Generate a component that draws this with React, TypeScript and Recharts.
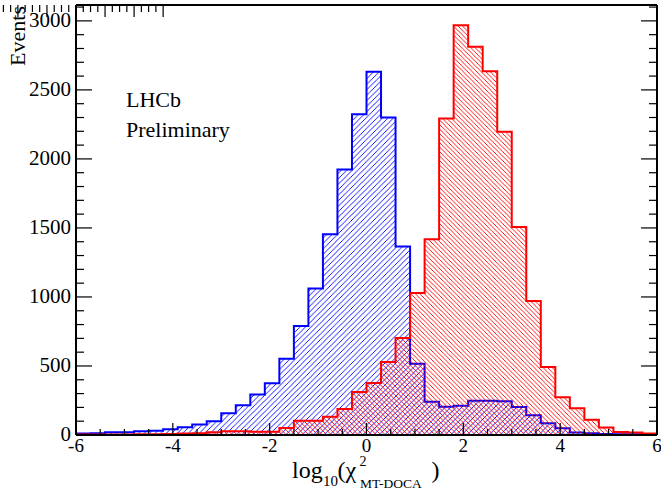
import { Area, ComposedChart, Label, XAxis, YAxis } from 'recharts';

// lower edges of the 0.3 wide bins in log10(chi2)
const binLow = [
  -6, -5.7, -5.4, -5.1, -4.8, -4.5, -4.2, -3.9, -3.6, -3.3, -3, -2.7, -2.4, -2.1, -1.8, -1.5, -1.2, -0.9, -0.6,
  -0.3, 0, 0.3, 0.6, 0.9, 1.2, 1.5, 1.8, 2.1, 2.4, 2.7, 3, 3.3, 3.6, 3.9, 4.2, 4.5, 4.8, 5.1, 5.4, 5.7,
];
const lastEdge = 6;

const blueCounts = [
  10, 12, 20, 20, 28, 30, 42, 56, 76, 100, 158, 215, 293, 375, 553, 790, 1061, 1454, 1923, 2324,
  2632, 2300, 1366, 517, 240, 205, 212, 248, 248, 244, 203, 143, 86, 48, 18, 12, 8, 6, 5, 4,
];
const redCounts = [
  3, 3, 4, 4, 5, 6, 8, 10, 12, 20, 28, 28, 24, 24, 51, 104, 104, 132, 188, 312,
  377, 529, 703, 1029, 1418, 2293, 2969, 2812, 2635, 2196, 1507, 971, 493, 273, 193, 110, 55, 22, 18, 10,
];

const xMajorTicks = [-6, -4, -2, 0, 2, 4, 6];
const xMinorTicks = [-5.5, -5, -4.5, -3.5, -3, -2.5, -1.5, -1, -0.5, 0.5, 1, 1.5, 2.5, 3, 3.5, 4.5, 5, 5.5];
const yMajorTicks = [0, 500, 1000, 1500, 2000, 2500, 3000];
const yMinorTicks = [
  100, 200, 300, 400, 600, 700, 800, 900, 1100, 1200, 1300, 1400, 1600, 1700, 1800, 1900,
  2100, 2200, 2300, 2400, 2600, 2700, 2800, 2900, 3100,
];
const yMax = 3115;

const FONT = '"Liberation Serif", "DejaVu Serif", serif';
const serif = { fontFamily: FONT };

const chartData = [
  ...binLow.map((x, i) => ({ x, blue: blueCounts[i], red: redCounts[i] })),
  { x: lastEdge, blue: blueCounts[blueCounts.length - 1], red: redCounts[redCounts.length - 1] },
];

const xTicks = [...xMajorTicks, ...xMinorTicks].sort((a, b) => a - b);
const yTicks = [...yMajorTicks, ...yMinorTicks].sort((a, b) => a - b);

type TickProps = { x: number; y: number; payload: { value: number } };

const BottomTick = ({ x, y, payload }: TickProps) => {
  const major = xMajorTicks.includes(payload.value);
  return (
    <g>
      <line x1={x} y1={y} x2={x} y2={y - (major ? 12 : 6)} stroke="#000" strokeWidth={1.2} />
      {major && (
        <text x={x} y={y + 17} textAnchor="middle" fontSize={19} style={serif} fill="#000">
          {payload.value}
        </text>
      )}
    </g>
  );
};

const TopTick = ({ x, y, payload }: TickProps) => {
  const major = xMajorTicks.includes(payload.value);
  return <line x1={x} y1={y} x2={x} y2={y + (major ? 12 : 7)} stroke="#000" strokeWidth={1.2} />;
};

const LeftTick = ({ x, y, payload }: TickProps) => {
  const major = yMajorTicks.includes(payload.value);
  return (
    <g>
      <line x1={x} y1={y} x2={x + (major ? 16 : 8)} y2={y} stroke="#000" strokeWidth={1.2} />
      {major && (
        <text x={x - 5} y={y + 6} textAnchor="end" fontSize={21} style={serif} fill="#000">
          {payload.value}
        </text>
      )}
    </g>
  );
};

const RightTick = ({ x, y, payload }: TickProps) => {
  const major = yMajorTicks.includes(payload.value);
  return <line x1={x} y1={y} x2={x - (major ? 16 : 8)} y2={y} stroke="#000" strokeWidth={1.2} />;
};

const XTitle = ({ viewBox }: any) => {
  const cx = viewBox.x + viewBox.width / 2;
  const base = viewBox.y + 43;
  return (
    <text style={serif} fill="#000">
      <tspan x={cx - 74.5} y={base} fontSize={24}>log</tspan>
      <tspan x={cx - 43.5} y={base + 8} fontSize={15}>10</tspan>
      <tspan x={cx - 29} y={base} fontSize={24}>(</tspan>
      <tspan x={cx - 21} y={base} fontSize={24}>χ</tspan>
      <tspan x={cx - 7} y={base - 12} fontSize={14}>2</tspan>
      <tspan x={cx - 6.5} y={base + 10} fontSize={13.5}>MT-DOCA</tspan>
      <tspan x={cx + 65} y={base} fontSize={24}>)</tspan>
    </text>
  );
};

const YTitle = () => (
  <text x={25} y={6} transform="rotate(-90, 25, 6)" textAnchor="end" fontSize={22} style={serif} fill="#000">
    Events
  </text>
);

export default function App() {
  return (
    <div style={{ position: 'absolute', left: 0, top: 0, width: 661, height: 492, background: '#fff' }}>
      <svg width={0} height={0} style={{ position: 'absolute' }}>
        <defs>
          <pattern id="hatchBlue" patternUnits="userSpaceOnUse" width={5.5} height={5.5}>
            <path d="M0,5.5 L5.5,0 M-1,1 L1,-1 M4.5,6.5 L6.5,4.5" stroke="#0000ff" strokeWidth={0.9} />
          </pattern>
          <pattern id="hatchRed" patternUnits="userSpaceOnUse" width={4.5} height={4.5}>
            <path d="M0,0 L4.5,4.5 M-1,3.5 L1,5.5 M3.5,-1 L5.5,1" stroke="#ff0000" strokeWidth={0.9} />
          </pattern>
        </defs>
      </svg>
      <ComposedChart width={661} height={492} data={chartData} margin={{ top: 4, right: 3, bottom: 0, left: 0 }}>
        <XAxis
          dataKey="x"
          type="number"
          domain={[-6, 6]}
          ticks={xTicks}
          interval={0}
          allowDataOverflow
          height={57}
          tickSize={0}
          tickMargin={0}
          tickLine={false}
          axisLine={{ stroke: '#000', strokeWidth: 2 }}
          tick={BottomTick}
        >
          <Label content={XTitle} />
        </XAxis>
        <XAxis
          xAxisId="top"
          orientation="top"
          type="number"
          domain={[-6, 6]}
          ticks={xTicks}
          interval={0}
          allowDataOverflow
          height={1}
          tickSize={0}
          tickMargin={0}
          tickLine={false}
          axisLine={{ stroke: '#000', strokeWidth: 2 }}
          tick={TopTick}
        />
        <YAxis
          yAxisId="left"
          type="number"
          domain={[0, yMax]}
          ticks={yTicks}
          interval={0}
          allowDataOverflow
          width={76}
          tickSize={0}
          tickMargin={0}
          tickLine={false}
          axisLine={{ stroke: '#000', strokeWidth: 2 }}
          tick={LeftTick}
        >
          <Label content={YTitle} />
        </YAxis>
        <YAxis
          yAxisId="right"
          orientation="right"
          type="number"
          domain={[0, yMax]}
          ticks={yTicks}
          interval={0}
          allowDataOverflow
          width={1}
          tickSize={0}
          tickMargin={0}
          tickLine={false}
          axisLine={{ stroke: '#000', strokeWidth: 2 }}
          tick={RightTick}
        />
        <Area
          yAxisId="left"
          type="stepAfter"
          dataKey="blue"
          stroke="#0000ff"
          strokeWidth={2}
          fill="url(#hatchBlue)"
          fillOpacity={1}
          dot={false}
          activeDot={false}
          isAnimationActive={false}
        />
        <Area
          yAxisId="left"
          type="stepAfter"
          dataKey="red"
          stroke="#ff0000"
          strokeWidth={2}
          fill="url(#hatchRed)"
          fillOpacity={1}
          dot={false}
          activeDot={false}
          isAnimationActive={false}
        />
      </ComposedChart>
      <div
        style={{
          position: 'absolute',
          left: 126,
          top: 85,
          fontFamily: FONT,
          fontSize: 22,
          lineHeight: '30px',
          color: '#000',
        }}
      >
        LHCb
        <br />
        Preliminary
      </div>
    </div>
  );
}
